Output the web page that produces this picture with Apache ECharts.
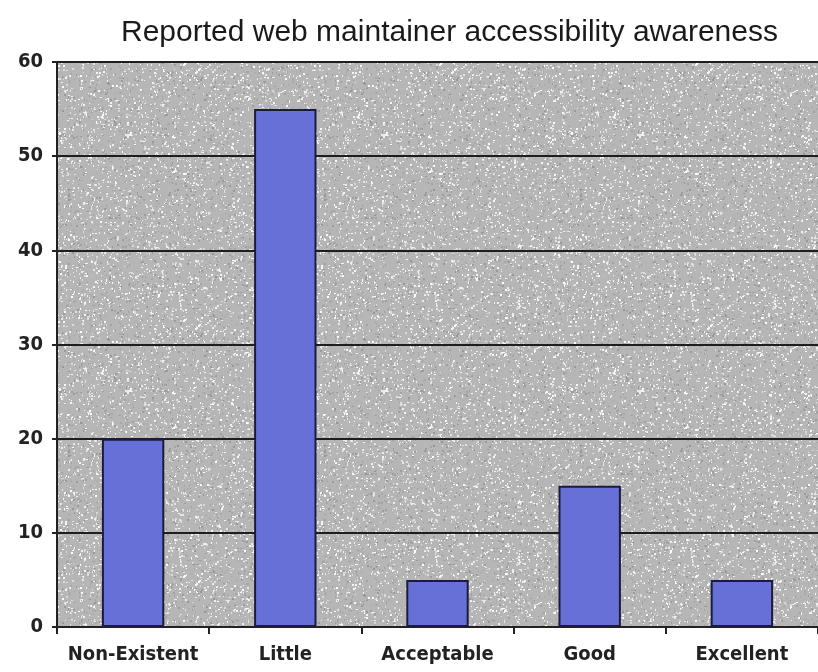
<!DOCTYPE html>
<html>
<head>
<meta charset="utf-8">
<script src="https://cdn.jsdelivr.net/npm/echarts@6/dist/echarts.min.js"></script>
<style>
html, body {margin: 0; padding: 0; background: #fff;}
#main {width: 818px; height: 672px;}
</style>
</head>
<body>
<div id="main"></div>
<script>
// 数据
var categories = ['Non-Existent', 'Little', 'Acceptable', 'Good', 'Excellent'];
var awareness = [20, 55, 5, 15, 5];
var yTicks = [0, 10, 20, 30, 40, 50, 60];

// 灰色花岗岩背景纹理 (固定种子)
function makeGranite() {
    var c = document.createElement('canvas');
    c.width = 256; c.height = 256;
    var ctx = c.getContext('2d');
    var s = 12345;
    function rnd() {
        s = (s * 1103515245 + 12345) & 0x7fffffff;
        return (s >> 8) % 1000 / 1000;
    }
    ctx.fillStyle = '#b6b6b6';
    ctx.fillRect(0, 0, 256, 256);
    for (var i = 0; i < 11000; i++) {
        var r = rnd();
        var v = r < 0.5 ? Math.round(215 + rnd() * 40) : Math.round(150 + rnd() * 30);
        ctx.fillStyle = 'rgb(' + v + ',' + v + ',' + v + ')';
        ctx.fillRect(Math.floor(rnd() * 256), Math.floor(rnd() * 256), 1 + Math.floor(rnd() * 2), 1 + Math.floor(rnd() * 2));
    }
    return c;
}

var axisFont = '"Liberation Sans Narrow", "DejaVu Sans Condensed", sans-serif';

var option = {
    animation: false,
    title: {
        text: 'Reported web maintainer accessibility awareness',
        left: 116,
        top: 13,
        textStyle: {
            fontFamily: '"Liberation Sans", Arial, sans-serif',
            fontSize: 30,
            fontWeight: 'normal',
            color: '#1a1a1a'
        }
    },
    grid: {
        left: 57,
        right: 0,
        top: 62,
        bottom: 45,
        show: true,
        borderWidth: 0,
        backgroundColor: {image: makeGranite(), repeat: 'repeat'}
    },
    xAxis: {
        type: 'category',
        data: categories,
        axisLine: {lineStyle: {color: '#222', width: 2}},
        axisTick: {show: true, length: 7, lineStyle: {color: '#222', width: 2}},
        axisLabel: {
            interval: 0,
            fontFamily: axisFont,
            fontWeight: 'bold',
            fontSize: 20,
            color: '#222',
            margin: 18
        }
    },
    yAxis: {
        type: 'value',
        min: yTicks[0],
        max: yTicks[yTicks.length - 1],
        interval: 10,
        axisLine: {show: true, lineStyle: {color: '#222', width: 2}},
        axisTick: {show: true, length: 5, lineStyle: {color: '#222', width: 2}},
        axisLabel: {
            fontFamily: axisFont,
            fontWeight: 'bold',
            fontSize: 20,
            color: '#222',
            margin: 14
        },
        splitLine: {show: true, lineStyle: {color: '#1e1e1e', width: 2}}
    },
    series: [{
        name: 'awareness',
        type: 'bar',
        data: awareness,
        barWidth: '41%',
        itemStyle: {
            color: '#6670d6',
            borderColor: '#1c1c3a',
            borderWidth: 2
        }
    }]
};

var myChart = echarts.init(document.getElementById('main'));
myChart.setOption(option);
</script>
</body>
</html>
